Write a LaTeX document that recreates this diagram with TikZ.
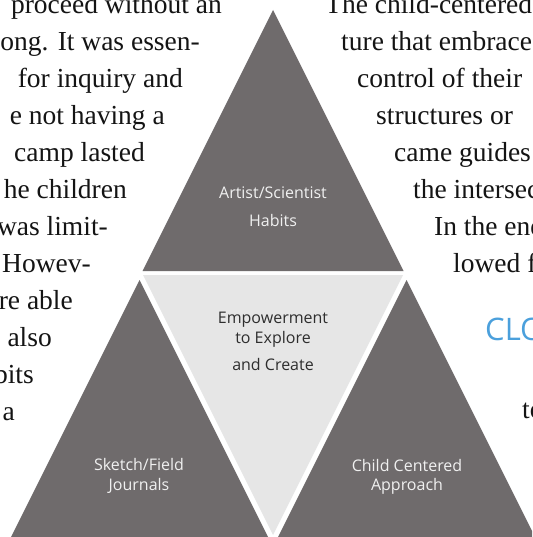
\documentclass[tikz,border=0pt]{standalone}
\usepackage{fontspec}
\setmainfont{Liberation Serif}
\newfontfamily\labelfont{Open Sans}
\definecolor{darktri}{RGB}{111,107,108}
\definecolor{lighttri}{RGB}{230,230,230}
\definecolor{heading}{RGB}{75,160,220}
\definecolor{bodytext}{RGB}{20,20,20}
\begin{document}
\begin{tikzpicture}[x=1pt,y=-1pt,
  bodyl/.style={inner sep=0pt, anchor=base east, text=bodytext, font=\fontsize{27.5}{33}\selectfont},
  bodyr/.style={inner sep=0pt, anchor=base west, text=bodytext, font=\fontsize{27.5}{33}\selectfont},
  darklab/.style={inner sep=0pt, anchor=base, text=white!94!black, font=\labelfont\fontsize{16}{19}\selectfont},
  lightlab/.style={inner sep=0pt, anchor=base, text=black!82, font=\labelfont\fontsize{16}{19}\selectfont},
  headlab/.style={inner sep=0pt, anchor=base west, text=heading, font=\labelfont\fontsize{31}{36}\selectfont}]
\useasboundingbox (0,0) rectangle (532,537);
\clip (0,0) rectangle (532,537);
\fill[white] (0,0) rectangle (532,537);

% triangles
\fill[darktri] (273,10) -- (403.5,271) -- (142.5,271) -- cycle;
\fill[darktri] (139.5,280) -- (270,541) -- (9,541) -- cycle;
\fill[darktri] (406.5,280) -- (537,541) -- (276,541) -- cycle;
\fill[lighttri] (143,275) -- (403,275) -- (273,535) -- cycle;

% triangle labels
\node[darklab] (artist) at (273,198) {Artist/Scientist};
\node[darklab] (habits) at (273,226) {Habits};
\node[lightlab] (emp) at (273,323.5) {Empowerment};
\node[lightlab] (explore) at (273,343) {to Explore};
\node[lightlab] (create) at (273,370.5) {and Create};
\node[darklab] (sketch) at (139,470) {Sketch/Field};
\node[darklab] (journals) at (139,490) {Journals};
\node[darklab] (child) at (407,471.5) {Child Centered};
\node[darklab] (approach) at (407,490) {Approach};

% left text column (clipped)
\node[bodyl] (l1) at (222,13.5) {proceed without an};
\node[bodyl] (l2) at (200,50.5) {ong. It was essen-};
\node[bodyl] (l3) at (183,87.5) {for inquiry and};
\node[bodyl] (l4) at (165,124.5) {e not having a};
\node[bodyl] (l5) at (145,161.5) {camp lasted};
\node[bodyl] (l6) at (127,198.5) {he children};
\node[bodyl] (l7) at (108,235.5) {was limit-};
\node[bodyl] (l8) at (91,272.5) {Howev-};
\node[bodyl] (l9) at (73,309.5) {re able};
\node[bodyl] (l10) at (52,346.5) {also};
\node[bodyl] (l11) at (34,383.5) {bits};
\node[bodyl] (l12) at (15,420.5) {a};

% right text column (clipped)
\node[bodyr] (r1) at (325,13.5) {The child-centered};
\node[bodyr] (r2) at (341,50.5) {ture that embrace};
\node[bodyr] (r3) at (357,87.5) {control of their};
\node[bodyr] (r4) at (376,124.5) {structures or};
\node[bodyr] (r5) at (394,161.5) {came guides};
\node[bodyr] (r6) at (413,198.5) {the intersection};
\node[bodyr] (r7) at (434,235.5) {In the end};
\node[bodyr] (r8) at (453,272.5) {lowed fo};
\node[headlab] (clo) at (485,340) {CLO};
\node[bodyr] (r9) at (522,418) {to};
\end{tikzpicture}
\end{document}
